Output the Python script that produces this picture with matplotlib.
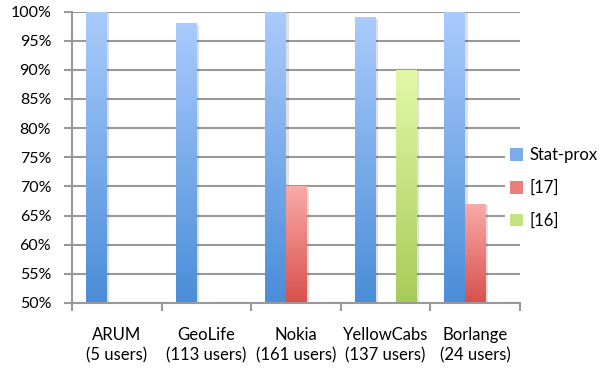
import numpy as np
import matplotlib
matplotlib.use("Agg")
import matplotlib.pyplot as plt
import matplotlib.patheffects as pe
from matplotlib.colors import LinearSegmentedColormap, to_rgb
from matplotlib.patches import Patch

categories = ["ARUM\n(5 users)", "GeoLife\n(113 users)", "Nokia\n(161 users)",
              "YellowCabs\n(137 users)", "Borlange\n(24 users)"]
series_names = ["Stat-prox", "[17]", "[16]"]
stat_prox = [100, 98, 100, 99, 100]
ref17 = [None, None, 70, None, 67]
ref16 = [None, None, None, 90, None]
yticks = [50, 55, 60, 65, 70, 75, 80, 85, 90, 95, 100]

# (top colour, bottom colour) of each series' gradient
gradients = [("#aacbfc", "#4a8dd8"), ("#f9aba9", "#d8504c"), ("#e3f8a7", "#a7cb58")]

plt.rcParams["font.family"] = ["Lato", "DejaVu Sans"]

fig = plt.figure(figsize=(6.02, 3.69), dpi=100)
ax = fig.add_axes([72 / 602, (369 - 303) / 369, (520 - 72) / 602, (303 - 11.5) / 369])

ymin, ymax = 50, 100
x = np.arange(len(categories))
bw = 0.229
all_series = [stat_prox, ref17, ref16]
offsets = [-bw, 0, bw]

grad = np.linspace(1, 0, 256).reshape(-1, 1)
for s, (vals, off, (ctop, cbot)) in enumerate(zip(all_series, offsets, gradients)):
    cmap = LinearSegmentedColormap.from_list(f"g{s}", [cbot, ctop])
    for i, v in enumerate(vals):
        if v is None:
            continue
        bar = ax.bar(x[i] + off, v - ymin, bottom=ymin, width=bw, color="white",
                     zorder=3, linewidth=0)[0]
        bar.set_path_effects([pe.SimplePatchShadow(offset=(2, -1), shadow_rgbFace="#000000",
                                                   alpha=0.12), pe.Normal()])
        x0, w = bar.get_x(), bar.get_width()
        y0, h = bar.get_y(), bar.get_height()
        im = ax.imshow(grad, cmap=cmap, vmin=0, vmax=1, aspect="auto",
                       extent=[x0, x0 + w, y0, y0 + h], zorder=4, interpolation="bilinear")
        im.set_clip_path(bar)

ax.set_xlim(-0.5, len(categories) - 0.5)
ax.set_ylim(ymin, ymax)
ax.set_aspect("auto")

ax.set_yticks(yticks)
ax.set_yticklabels([f"{t}%" for t in yticks], fontsize=11.5)
ax.yaxis.grid(True, color="#999999", linewidth=1.5, zorder=0)
ax.set_axisbelow(True)

ax.set_xticks(x)
ax.set_xticklabels(categories, fontsize=12, linespacing=1.35)
ax.tick_params(axis="x", length=0, pad=17)
ax.set_xticks(np.arange(-0.5, len(categories)), minor=True)
ax.tick_params(axis="x", which="minor", length=6, width=1.5, color="#999999", direction="out")
ax.tick_params(axis="y", length=6, width=1.5, color="#999999", direction="out", pad=9)

for side in ["top", "right"]:
    ax.spines[side].set_visible(False)
for side in ["left", "bottom"]:
    ax.spines[side].set_color("#999999")
    ax.spines[side].set_linewidth(1.5)
ax.spines["bottom"].set_zorder(5)

handles = [Patch(facecolor=(np.array(to_rgb(a)) + np.array(to_rgb(b))) / 2, edgecolor="none")
           for a, b in gradients]
leg = fig.legend(handles, series_names, loc="upper left", bbox_to_anchor=(497 / 602, 1 - 134 / 369),
                 frameon=True, fontsize=12, handlelength=0.75, handleheight=0.75,
                 handletextpad=0.4, labelspacing=1.0, borderpad=0.3)
leg.get_frame().set_edgecolor("none")
leg.get_frame().set_facecolor("white")
leg.get_frame().set_alpha(1)
leg.set_zorder(10)

fig.savefig("out.png", dpi=100)
